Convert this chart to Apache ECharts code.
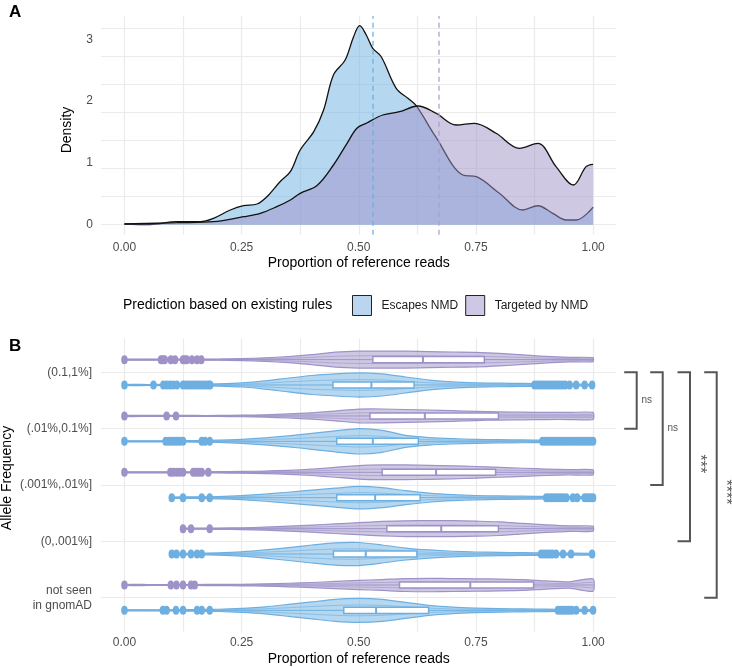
<!DOCTYPE html>
<html><head><meta charset="utf-8">
<script src="https://cdn.jsdelivr.net/npm/echarts@6/dist/echarts.min.js"></script>
<style>html,body{margin:0;padding:0;background:#fff}#c{width:732px;height:667px}</style>
</head><body><div id="c"></div>
<script>
// ---------------- DATA ----------------
// Panel A: density of proportion of reference reads
const densityEscapes = [[0,0.011],[0.054,0.002],[0.112,0.049],[0.162,0.049],[0.19,0.104],[0.226,0.238],[0.254,0.307],[0.283,0.335],[0.304,0.453],[0.332,0.696],[0.354,0.858],[0.375,1.209],[0.404,1.505],[0.425,1.856],[0.446,2.422],[0.471,2.665],[0.489,3.042],[0.502,3.22],[0.516,3.07],[0.530,2.854],[0.548,2.718],[0.580,2.207],[0.605,2.045],[0.623,1.921],[0.664,1.424],[0.722,0.804],[0.751,0.777],[0.80,0.508],[0.85,0.238],[0.882,0.307],[0.914,0.184],[0.943,0.076],[0.964,0.076],[1.0,0.282]];
const densityTargeted = [[0,0.011],[0.112,0.032],[0.19,0.049],[0.254,0.129],[0.29,0.184],[0.325,0.291],[0.354,0.40],[0.375,0.508],[0.411,0.635],[0.446,0.966],[0.475,1.317],[0.496,1.56],[0.516,1.641],[0.551,1.775],[0.587,1.828],[0.626,1.921],[0.665,1.803],[0.708,1.613],[0.747,1.641],[0.793,1.479],[0.843,1.236],[0.882,1.317],[0.921,0.939],[0.958,0.642],[0.985,0.939],[1.0,0.977]];
const densityMedians = [0.530, 0.667];
const densityTicks = [0, 1, 2, 3];
const proportionTicks = [0, 0.25, 0.5, 0.75, 1];

// Panel B: violins by allele frequency
const freqCategories = ['(0.1,1%]', '(.01%,0.1%]', '(.001%,.01%]', '(0,.001%]', 'not seen\nin gnomAD'];
const groupNames = ['Escapes NMD', 'Targeted by NMD'];
const violinX = [0,0.05,0.1,0.15,0.2,0.25,0.3,0.35,0.4,0.45,0.5,0.55,0.6,0.65,0.7,0.75,0.8,0.85,0.9,0.95,1];
const targetedWidth = [
  [0.04,0.04,0.04,0.04,0.05,0.08,0.14,0.24,0.39,0.59,0.67,0.67,0.67,0.63,0.60,0.58,0.50,0.38,0.25,0.18,0.16],
  [0.04,0.04,0.04,0.04,0.04,0.06,0.09,0.16,0.25,0.39,0.54,0.55,0.51,0.47,0.42,0.36,0.32,0.30,0.28,0.28,0.28],
  [0.04,0.04,0.04,0.04,0.05,0.07,0.10,0.16,0.25,0.39,0.53,0.58,0.58,0.55,0.51,0.46,0.39,0.32,0.25,0.21,0.20],
  [0.04,0.04,0.04,0.04,0.05,0.07,0.12,0.20,0.28,0.38,0.47,0.57,0.62,0.63,0.63,0.59,0.54,0.41,0.30,0.22,0.20],
  [0.04,0.04,0.04,0.04,0.05,0.06,0.09,0.14,0.20,0.28,0.36,0.43,0.51,0.53,0.51,0.49,0.47,0.43,0.32,0.25,0.49]
];
const escapesWidth = [
  [0.04,0.04,0.05,0.06,0.09,0.16,0.32,0.55,0.75,0.87,0.95,0.87,0.63,0.39,0.24,0.17,0.14,0.12,0.10,0.08,0.06],
  [0.04,0.04,0.05,0.06,0.09,0.16,0.28,0.43,0.63,0.83,1.00,0.87,0.47,0.30,0.21,0.16,0.13,0.11,0.09,0.08,0.06],
  [0.04,0.04,0.05,0.06,0.09,0.16,0.28,0.43,0.59,0.75,0.89,0.79,0.55,0.36,0.24,0.17,0.14,0.12,0.10,0.08,0.06],
  [0.04,0.04,0.05,0.06,0.09,0.17,0.32,0.51,0.71,0.88,0.91,0.71,0.47,0.32,0.22,0.16,0.13,0.11,0.09,0.08,0.06],
  [0.04,0.04,0.05,0.06,0.09,0.16,0.28,0.47,0.67,0.87,0.95,0.87,0.63,0.39,0.25,0.18,0.14,0.12,0.10,0.08,0.06]
];
const targetedRange = [[0,1],[0,1],[0,1],[0.125,1],[0,1]];
const escapesRange = [[0,1],[0,1],[0.101,1],[0.101,1],[0,1]];
// [q1, median, q3]
const targetedBox = [[0.530,0.637,0.768],[0.524,0.641,0.798],[0.550,0.665,0.792],[0.560,0.676,0.798],[0.587,0.738,0.873]];
const escapesBox = [[0.445,0.527,0.618],[0.453,0.530,0.627],[0.453,0.535,0.631],[0.446,0.515,0.624],[0.468,0.537,0.649]];
const targetedOutliers = [
  [0,0.078,0.082,0.086,0.099,0.108,0.125,0.129,0.133,0.144,0.155,0.164],
  [0,0.09,0.11],
  [0,0.098,0.104,0.111,0.118,0.125,0.147,0.153,0.159,0.165,0.179],
  [0.125,0.142,0.182],
  [0,0.099,0.111,0.125,0.142,0.15]
];
const escapesOutliers = [
  [0,0.062,0.083,0.09,0.097,0.104,0.112,0.125,0.131,0.137,0.143,0.149,0.155,0.161,0.167,0.173,0.179,0.183,
   0.875,0.881,0.887,0.893,0.899,0.905,0.911,0.917,0.923,0.929,0.935,0.941,0.95,0.964,0.982,0.998],
  [0,0.088,0.094,0.1,0.106,0.112,0.118,0.125,0.165,0.172,0.182,
   0.892,0.898,0.904,0.91,0.916,0.922,0.928,0.934,0.94,0.946,0.952,0.958,0.964,0.97,0.976,0.982,0.988,0.994,1.0],
  [0.101,0.125,0.165,0.182,0.9,0.906,0.912,0.918,0.924,0.93,0.936,0.943,0.957,0.966,0.982,0.988,0.994,1.0],
  [0.101,0.111,0.125,0.142,0.155,0.165,0.889,0.895,0.901,0.907,0.913,0.921,0.936,0.953,0.998],
  [0,0.082,0.09,0.11,0.125,0.155,0.165,0.182,0.925,0.931,0.937,0.943,0.949,0.955,0.964,0.982,1.0]
];
// significance brackets: [fromCategory, toCategory]
const bracketPairs = [[0,1],[0,2],[0,3],[0,4]];
const bracketLabels = ['ns','ns','***','****'];

// ---------------- STYLE ----------------
const FONT = '"Liberation Sans", Arial, Helvetica, sans-serif';
const BLUE = 'rgb(110,175,225)', BLUE_FILL = 'rgba(110,175,225,0.5)';
const PURPLE = 'rgb(158,146,200)', PURPLE_FILL = 'rgba(158,146,200,0.5)';
const GRIDC = '#ebebeb';
const TICKC = '#4d4d4d';
const DODGE = 0.225, SLOT = 0.225, INNER = 0.45, BOXH = 0.054;
const minorX = [0,0.125,0.25,0.375,0.5,0.625,0.75,0.875,1];

function interp(xs, ys, x) {
  if (x <= xs[0]) return ys[0];
  for (let i = 1; i < xs.length; i++) {
    if (x <= xs[i]) { const t = (x - xs[i-1]) / (xs[i] - xs[i-1]); return ys[i-1] + t * (ys[i] - ys[i-1]); }
  }
  return ys[ys.length - 1];
}

const violins = [];
freqCategories.forEach((c, ci) => {
  violins.push({cat: ci, off: -DODGE, width: targetedWidth[ci], range: targetedRange[ci], box: targetedBox[ci], stroke: PURPLE, fill: PURPLE_FILL});
  violins.push({cat: ci, off: DODGE, width: escapesWidth[ci], range: escapesRange[ci], box: escapesBox[ci], stroke: BLUE, fill: BLUE_FILL});
});
function outlierData(list, off) {
  const d = [];
  list.forEach((xs, ci) => xs.forEach(x => d.push([x, ci + off])));
  return d;
}

const chart = echarts.init(document.getElementById('c'), null, {renderer: 'canvas'});
const xCommon = {
  type: 'value', min: -0.05, max: 1.05,
  axisLine: {show: false},
  axisTick: {show: false, customValues: minorX},
  axisLabel: {customValues: proportionTicks, formatter: v => v.toFixed(2), color: TICKC, fontSize: 12, fontFamily: FONT},
  splitLine: {show: true, lineStyle: {color: GRIDC, width: 1.2}},
  name: 'Proportion of reference reads', nameLocation: 'middle',
  nameTextStyle: {fontSize: 14, color: '#000', fontFamily: FONT}
};

chart.setOption({
  animation: false,
  backgroundColor: '#fff',
  grid: [
    {left: 101, top: 16, width: 515.5, height: 218.7, outerBoundsMode: 'none', containLabel: false},
    {left: 101, top: 338.5, width: 515.5, height: 293, outerBoundsMode: 'none', containLabel: false}
  ],
  xAxis: [
    Object.assign({}, xCommon, {gridIndex: 0, nameGap: 21, axisLabel: Object.assign({}, xCommon.axisLabel, {margin: 7})}),
    Object.assign({}, xCommon, {gridIndex: 1, nameGap: 21, axisLabel: Object.assign({}, xCommon.axisLabel, {margin: 5})})
  ],
  yAxis: [
    {gridIndex: 0, type: 'value', position: 'left', min: -0.17857, max: 3.7268,
     axisLine: {show: false}, axisTick: {show: false, customValues: [0,0.5,1,1.5,2,2.5,3,3.5]},
     axisLabel: {show: false}, splitLine: {show: true, lineStyle: {color: GRIDC, width: 1.2}}},
    {gridIndex: 0, type: 'value', position: 'left', min: -0.1618, max: 3.377,
     axisLine: {show: false}, axisTick: {show: false},
     axisLabel: {customValues: densityTicks, color: TICKC, fontSize: 12, fontFamily: FONT, margin: 8},
     splitLine: {show: false}},
    {gridIndex: 1, type: 'value', inverse: true, min: -0.6, max: 4.6,
     axisLine: {show: false}, axisTick: {show: false, customValues: [0,1,2,3,4]},
     axisLabel: {customValues: [0,1,2,3,4], formatter: v => freqCategories[Math.round(v)],
                 color: TICKC, fontSize: 12, lineHeight: 15, fontFamily: FONT, margin: 9, align: 'right'},
     splitLine: {show: true, lineStyle: {color: GRIDC, width: 1.2}}}
  ],
  legend: {
    left: 347, top: 290, itemWidth: 19, itemHeight: 20, itemGap: 7, icon: 'rect', selectedMode: false,
    textStyle: {fontSize: 12, color: '#1a1a1a', fontFamily: FONT, padding: [0,0,0,5]},
    data: [
      {name: groupNames[0], itemStyle: {color: 'rgb(185,214,238)', borderColor: '#222', borderWidth: 1}},
      {name: groupNames[1], itemStyle: {color: 'rgb(206,200,228)', borderColor: '#222', borderWidth: 1}}
    ]
  },
  graphic: [
    {type: 'text', x: 9, y: 12.5, style: {text: 'A', font: 'bold 17px ' + FONT, fill: '#000', align: 'left', verticalAlign: 'middle'}},
    {type: 'text', x: 9, y: 346, style: {text: 'B', font: 'bold 17px ' + FONT, fill: '#000', align: 'left', verticalAlign: 'middle'}},
    {type: 'text', x: 67, y: 130, rotation: Math.PI / 2, style: {text: 'Density', font: '14px ' + FONT, fill: '#000', align: 'center', verticalAlign: 'middle'}},
    {type: 'text', x: 7, y: 478, rotation: Math.PI / 2, style: {text: 'Allele Frequency', font: '14px ' + FONT, fill: '#000', align: 'center', verticalAlign: 'middle'}},
    {type: 'text', x: 123, y: 305, style: {text: 'Prediction based on existing rules', font: '14px ' + FONT, fill: '#000', align: 'left', verticalAlign: 'middle'}}
  ],
  series: [
    {name: groupNames[0], type: 'line', xAxisIndex: 0, yAxisIndex: 1, data: densityEscapes, smooth: 0.35, z: 2,
     symbol: 'none', lineStyle: {color: '#111', width: 1.3}, itemStyle: {color: BLUE}, areaStyle: {color: BLUE_FILL, opacity: 1},
     markLine: {silent: true, symbol: ['none','none'], label: {show: false},
       lineStyle: {color: 'rgba(110,175,225,0.85)', type: [5,4], width: 1.5}, data: [{xAxis: densityMedians[0]}]}},
    {name: groupNames[1], type: 'line', xAxisIndex: 0, yAxisIndex: 1, data: densityTargeted, smooth: 0.35, z: 3,
     symbol: 'none', lineStyle: {color: '#111', width: 1.3}, itemStyle: {color: PURPLE}, areaStyle: {color: PURPLE_FILL, opacity: 1},
     markLine: {silent: true, symbol: ['none','none'], label: {show: false},
       lineStyle: {color: 'rgba(170,160,210,0.85)', type: [5,4], width: 1.5}, data: [{xAxis: densityMedians[1]}]}},
    {type: 'custom', xAxisIndex: 1, yAxisIndex: 2, clip: false, silent: true, z: 2,
     data: violins.map((v, k) => [v.box[1], v.cat + v.off, k]),
     renderItem: function (params, api) {
       const v = violins[api.value(2)];
       const cy = v.cat + v.off;
       const xs = [v.range[0]];
       violinX.forEach(x => { if (x > v.range[0] + 1e-9 && x < v.range[1] - 1e-9) xs.push(x); });
       xs.push(v.range[1]);
       const ws = xs.map(x => interp(violinX, v.width, x) * SLOT);
       const top = xs.map((x, i) => api.coord([x, cy - ws[i]]));
       const bot = xs.map((x, i) => api.coord([x, cy + ws[i]]));
       const itop = xs.map((x, i) => api.coord([x, cy - ws[i] * INNER]));
       const ibot = xs.map((x, i) => api.coord([x, cy + ws[i] * INNER]));
       const poly = top.concat(bot.slice().reverse());
       const c0 = api.coord([v.range[0], cy]), c1 = api.coord([v.range[1], cy]);
       const b0 = api.coord([v.box[0], cy - BOXH]), b1 = api.coord([v.box[2], cy + BOXH]);
       const m0 = api.coord([v.box[1], cy - BOXH]), m1 = api.coord([v.box[1], cy + BOXH]);
       return {type: 'group', children: [
         {type: 'polygon', shape: {points: poly, smooth: 0.2}, style: {fill: v.fill, stroke: v.stroke, lineWidth: 1.2}},
         {type: 'polyline', shape: {points: itop, smooth: 0.2}, style: {fill: null, stroke: v.stroke, lineWidth: 0.8, opacity: 0.8}},
         {type: 'polyline', shape: {points: ibot, smooth: 0.2}, style: {fill: null, stroke: v.stroke, lineWidth: 0.8, opacity: 0.8}},
         {type: 'line', shape: {x1: c0[0], y1: c0[1], x2: c1[0], y2: c1[1]}, style: {stroke: v.stroke, lineWidth: 1}},
         {type: 'rect', shape: {x: b0[0], y: Math.min(b0[1], b1[1]), width: b1[0] - b0[0], height: Math.abs(b1[1] - b0[1])},
          style: {fill: '#fff', stroke: v.stroke, lineWidth: 1.5}},
         {type: 'line', shape: {x1: m0[0], y1: m0[1], x2: m1[0], y2: m1[1]}, style: {stroke: v.stroke, lineWidth: 2}}
       ]};
     }},
    {type: 'scatter', xAxisIndex: 1, yAxisIndex: 2, silent: true, z: 3, symbol: 'circle', symbolSize: [6.5, 9],
     itemStyle: {color: PURPLE, opacity: 1}, data: outlierData(targetedOutliers, -DODGE)},
    {type: 'scatter', xAxisIndex: 1, yAxisIndex: 2, silent: true, z: 3, symbol: 'circle', symbolSize: [6.5, 9],
     itemStyle: {color: BLUE, opacity: 1}, data: outlierData(escapesOutliers, DODGE)},
    {type: 'custom', xAxisIndex: 1, yAxisIndex: 2, clip: false, silent: true, z: 4,
     data: bracketPairs.map((p, i) => [0, p[0], p[1], i]),
     renderItem: function (params, api) {
       const i = api.value(3);
       const offs = [20.2, 46.2, 73.5, 100.2];
       const cs = params.coordSys;
       const right = cs.x + cs.width;
       const y1 = api.coord([0, api.value(1)])[1];
       const y2 = api.coord([0, api.value(2)])[1];
       const xv = right + offs[i];
       const lab = bracketLabels[i];
       const rot = lab.indexOf('*') >= 0;
       return {type: 'group', children: [
         {type: 'polyline', shape: {points: [[xv - 12.5, y1], [xv, y1], [xv, y2], [xv - 12.5, y2]]},
          style: {fill: null, stroke: '#555', lineWidth: 2}},
         {type: 'text', x: xv + (rot ? 9 : 10), y: (y1 + y2) / 2 + (rot ? 7 : 0), rotation: rot ? -Math.PI / 2 : 0,
          style: {text: lab, font: (rot ? '16px ' : '10px ') + FONT, fill: '#555', align: 'center', verticalAlign: 'middle'}}
       ]};
     }}
  ]
});
</script></body></html>
